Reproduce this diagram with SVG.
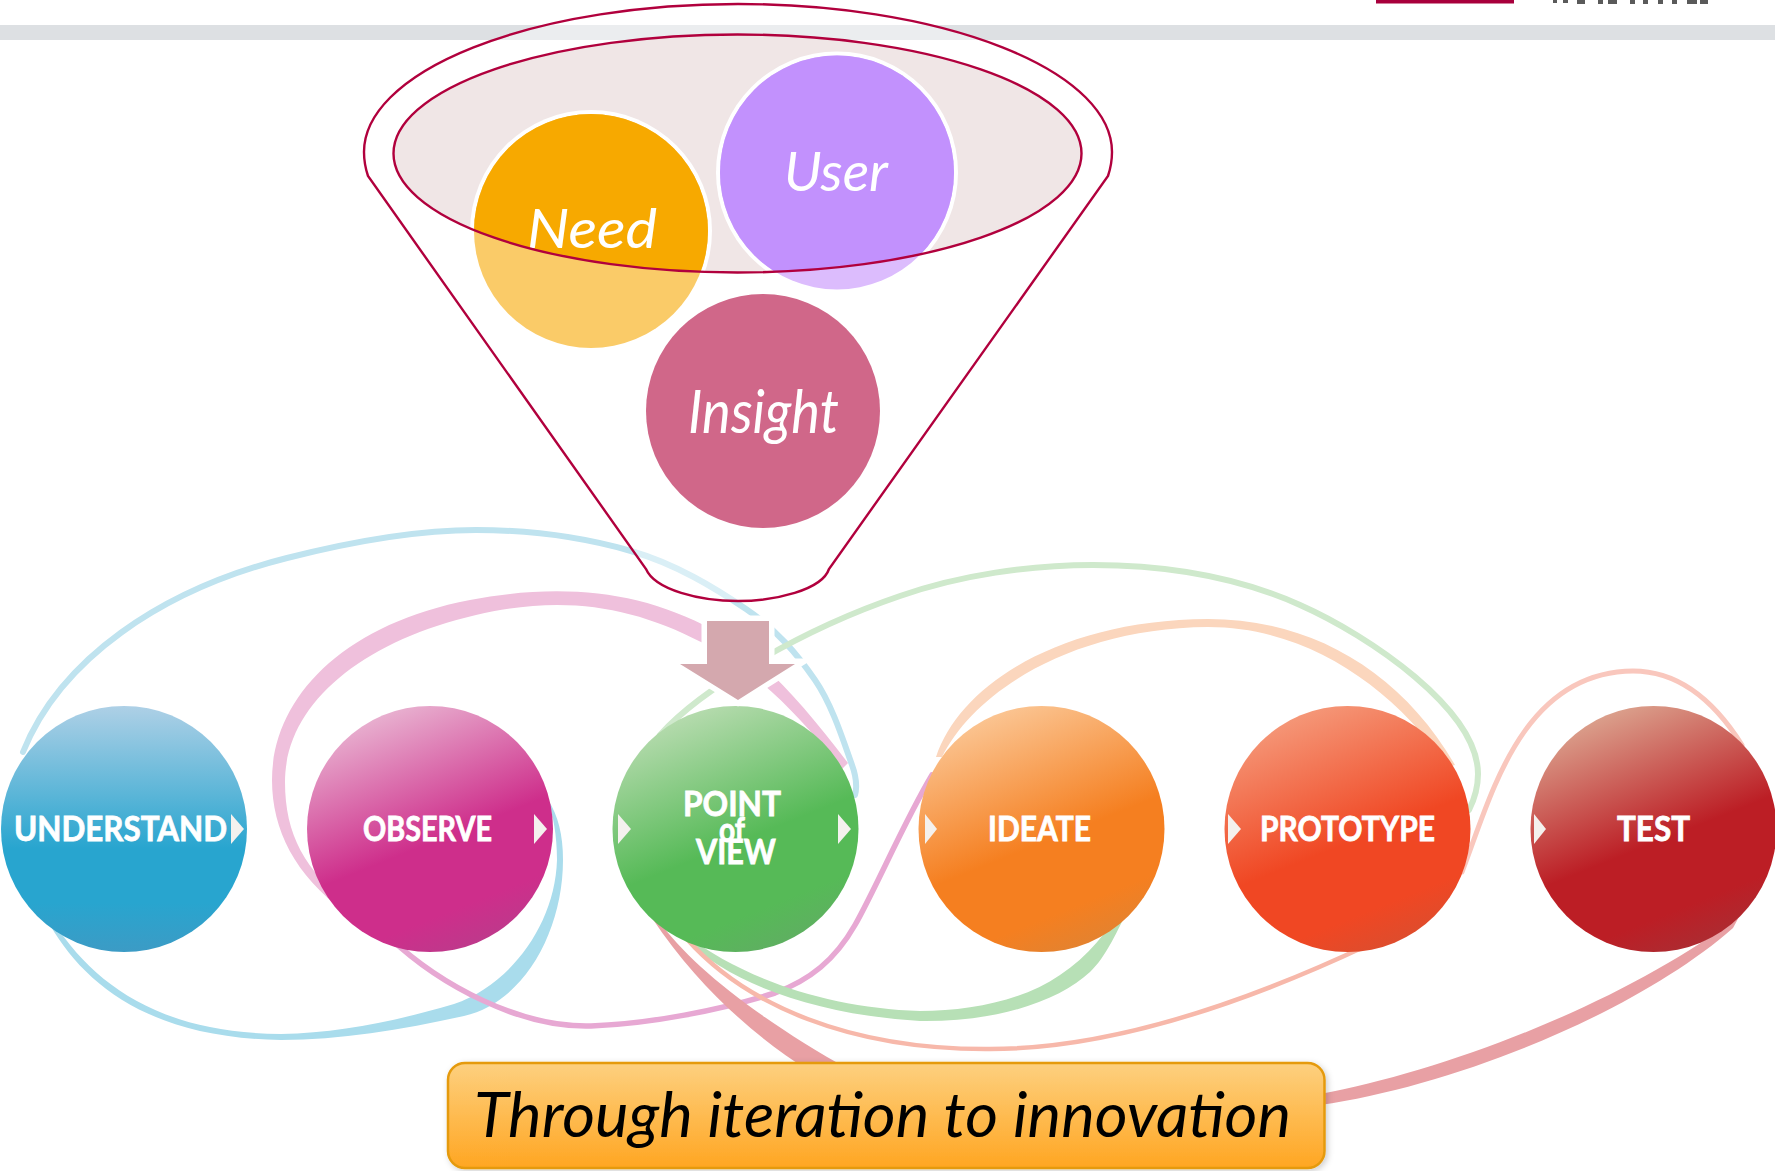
<svg xmlns="http://www.w3.org/2000/svg" width="1775" height="1171" viewBox="0 0 1775 1171">
<style>
text{font-family:"Lato","Liberation Sans",sans-serif}
.lab{font-size:35px;font-weight:700;fill:#fff;stroke:#fff;stroke-width:.8}
.hand{font-style:italic;font-size:54px;fill:#fff;font-weight:400}
.tri{fill:#f4f1ee}
.st{fill:none;stroke-linecap:round}
.funnel{stroke:#b1003d;stroke-width:2.4}
.ring{fill:#fff}
.crop{fill:#5a5a5a}
</style>
<defs>
<linearGradient id="diag" x1=".25" y1=".03" x2=".63" y2=".98"/>
<linearGradient id="gU" x1="0" y1="0" x2="0" y2="1"><stop offset="0" stop-color="#aed0e6"/><stop offset=".58" stop-color="#28a5cf"/><stop offset=".8" stop-color="#28a5cf"/><stop offset="1" stop-color="#3c9bc5"/></linearGradient>
<linearGradient id="gO" href="#diag"><stop offset="0" stop-color="#e9b5d2"/><stop offset=".57" stop-color="#ce2e8b"/><stop offset=".85" stop-color="#ce2e8b"/><stop offset="1" stop-color="#bf388b"/></linearGradient>
<linearGradient id="gP" href="#diag"><stop offset="0" stop-color="#b9dcb1"/><stop offset=".57" stop-color="#56ba57"/><stop offset=".85" stop-color="#56ba57"/><stop offset="1" stop-color="#5eb060"/></linearGradient>
<linearGradient id="gI" href="#diag"><stop offset="0" stop-color="#fbc796"/><stop offset=".57" stop-color="#f57f20"/><stop offset=".85" stop-color="#f57f20"/><stop offset="1" stop-color="#e5822e"/></linearGradient>
<linearGradient id="gR" href="#diag"><stop offset="0" stop-color="#f59a7b"/><stop offset=".57" stop-color="#f04723"/><stop offset=".85" stop-color="#f04723"/><stop offset="1" stop-color="#df4c2c"/></linearGradient>
<linearGradient id="gT" href="#diag"><stop offset="0" stop-color="#dca590"/><stop offset=".57" stop-color="#bc1e25"/><stop offset=".85" stop-color="#bc1e25"/><stop offset="1" stop-color="#ae2a30"/></linearGradient>
<linearGradient id="gB" x1="0" y1="0" x2="0" y2="1"><stop offset="0" stop-color="#fdd07f"/><stop offset="1" stop-color="#ffa622"/></linearGradient>
<clipPath id="inner"><ellipse cx="737.5" cy="153.5" rx="344" ry="119"/></clipPath>
<filter id="sh" x="-3%" y="-5%" width="106%" height="112%"><feDropShadow dx="2" dy="2" stdDeviation="3" flood-color="#000" flood-opacity=".2"/></filter>
</defs>

<g id="header">
<rect x="0" y="25" width="1775" height="15" fill="#dde0e3"/>
<rect x="1376" y="0" width="138" height="3.500" fill="#a8003c"/>
<path class="crop" d="M1553,0h4v3h-4zM1563,0h5v3h-5zM1577,0h8v4h-8zM1598,0h5v4h-5zM1608,0h9v4h-9zM1630,0h5v4h-5zM1643,0h5v4h-5zM1658,0h5v4h-5zM1672,0h5v4h-5zM1687,0h10v4h-10zM1700,0h8v4h-8z"/>
</g>

<g id="connectors">
<path class="st" stroke="#bfe3ef" stroke-width="6" d="M23,752C60,660 160,590 287,558C350,542 420,530 476,530C533,530 586,538 631,551C676,564 715,588 746,609C777,630 797,654 815,680C833,706 845,746 852,765C859,784 855,795 855,795"/>
<path fill="#a9dcec" d="M50,925C85,985 150,1038 281,1040C340,1040 400,1030 464,1016C525,1002 563,930 563,860C563,835 558,815 548,800C553,815 557,835 557,860C555,925 510,985 454,1004C400,1020 340,1033 281,1034C160,1033 95,985 54,923Z"/>
<path fill="#efc0dc" d="M345,912C295,875 272,830 272,780C272,700 340,625 470,600C560,583 640,590 713,630C760,655 800,700 848,763L842,769C795,710 755,670 701,642C630,605 560,595 476,615C360,642 285,705 285,782C285,835 305,870 350,906Z"/>
<path class="st" stroke="#e7a8d3" stroke-width="5.5" d="M390,938C440,985 520,1028 591,1026C650,1024 720,1010 775,993C810,980 835,960 855,925C875,890 905,820 932,775"/>
<path class="st" stroke="#cfe9cc" stroke-width="6" d="M660,735C700,690 800,630 900,596C960,575 1030,565 1093,565C1170,565 1240,578 1300,605C1370,636 1478,710 1478,774C1478,790 1474,800 1469,810"/>
<path fill="#b7e0b6" d="M684,938C730,985 820,1015 920,1021C1000,1022 1060,1000 1090,972C1106,957 1118,930 1130,905L1126,903C1108,930 1088,957 1060,975C1022,1001 970,1011 920,1011C830,1008 745,980 686,935Z"/>
<path fill="#fbd6bd" d="M936,757C960,685 1060,620 1208,619C1310,619 1400,670 1455,765L1448,767C1395,690 1310,627 1208,627C1075,628 975,690 942,757Z"/>
<path class="st" stroke="#f7b8aa" stroke-width="4.5" d="M686,938C745,1005 850,1050 990,1049C1100,1049 1230,1010 1368,945"/>
<path fill="#e8a0a4" d="M659,921C690,965 760,1020 850,1070L808,1070C760,1040 700,990 652,918ZM1320,1094C1450,1070 1630,1000 1740,915L1733,928C1640,1010 1460,1085 1320,1105Z"/>
<path class="st" stroke="#f9c7bd" stroke-width="5" d="M1462,872C1490,800 1520,672 1633,671C1685,671 1720,710 1742,745"/>
</g>

<g id="understand">
<circle cx="124" cy="829" r="123" fill="url(#gU)"/>
<text class="lab" x="14" y="841" textLength="213" lengthAdjust="spacingAndGlyphs">UNDERSTAND</text>
<path class="tri" d="M231,814L244,829L231,844Z"/>
</g>
<g id="observe">
<circle cx="430" cy="829" r="123" fill="url(#gO)"/>
<text class="lab" x="363" y="841" textLength="129" lengthAdjust="spacingAndGlyphs">OBSERVE</text>
<path class="tri" d="M534,814L547,829L534,844Z"/>
</g>
<g id="point-of-view">
<circle cx="735.500" cy="829" r="123" fill="url(#gP)"/>
<text class="lab" x="683" y="816" textLength="98" lengthAdjust="spacingAndGlyphs">POINT</text>
<text class="lab" x="719" y="842" textLength="26" lengthAdjust="spacingAndGlyphs">of</text>
<text class="lab" x="696" y="864" textLength="80" lengthAdjust="spacingAndGlyphs">VIEW</text>
<path class="tri" d="M618,814L631,829L618,844Z"/>
<path class="tri" d="M838,814L851,829L838,844Z"/>
</g>
<g id="ideate">
<circle cx="1041.500" cy="829" r="123" fill="url(#gI)"/>
<text class="lab" x="988" y="841" textLength="103" lengthAdjust="spacingAndGlyphs">IDEATE</text>
<path class="tri" d="M925,814L937,829L925,844Z"/>
</g>
<g id="prototype">
<circle cx="1347.500" cy="829" r="123" fill="url(#gR)"/>
<text class="lab" x="1260" y="841" textLength="175" lengthAdjust="spacingAndGlyphs">PROTOTYPE</text>
<path class="tri" d="M1228,814L1241,829L1228,844Z"/>
</g>
<g id="test">
<circle cx="1653.500" cy="829" r="123" fill="url(#gT)"/>
<text class="lab" x="1617" y="841" textLength="73" lengthAdjust="spacingAndGlyphs">TEST</text>
<path class="tri" d="M1534,814L1546,829L1534,844Z"/>
</g>

<g id="funnel">
<path class="funnel" fill="#fff" fill-opacity=".42" d="M368,176C366,170 364,160 364,152A374,148 0 0 1 1112,152C1112,160 1110,170 1108,176L829,569C822,590 775,601 738,601C700,601 655,590 646,569Z"/>
<ellipse cx="737.5" cy="153.5" rx="344" ry="119" fill="#efe4e4" fill-opacity=".93"/>
</g>
<g id="need">
<circle class="ring" cx="591" cy="231" r="121"/>
<circle cx="591" cy="231" r="117" fill="#facb68"/>
<circle cx="591" cy="231" r="117" fill="#f7a900" clip-path="url(#inner)"/>
<text class="hand" x="527" y="248" textLength="130" lengthAdjust="spacingAndGlyphs">Need</text>
</g>
<g id="user">
<circle class="ring" cx="837" cy="172.500" r="121"/>
<circle cx="837" cy="172.500" r="117" fill="#dcbcfd"/>
<circle cx="837" cy="172.500" r="117" fill="#c291fd" clip-path="url(#inner)"/>
<text class="hand" x="784" y="191" textLength="104" lengthAdjust="spacingAndGlyphs">User</text>
</g>
<g id="insight">
<circle cx="763" cy="411" r="117" fill="#d06789"/>
<text class="hand" x="688" y="433" textLength="151" lengthAdjust="spacingAndGlyphs" style="font-size:60px">Insight</text>
</g>
<ellipse class="funnel" cx="737.5" cy="153.5" rx="344" ry="119" fill="none"/>

<g id="arrow">
<path fill="#d4a8ae" stroke="#fff" stroke-width="11" paint-order="stroke" d="M707,621H769V664H795L738,700L680,664H707Z"/>
</g>

<g id="banner">
<rect x="448" y="1063" width="876.500" height="105" rx="17" fill="url(#gB)" stroke="#e59a0c" stroke-width="2.500" filter="url(#sh)"/>
<text x="474" y="1137" font-size="62" fill="#000" font-style="italic" textLength="817" lengthAdjust="spacingAndGlyphs">Through iteration to innovation</text>
</g>
</svg>
